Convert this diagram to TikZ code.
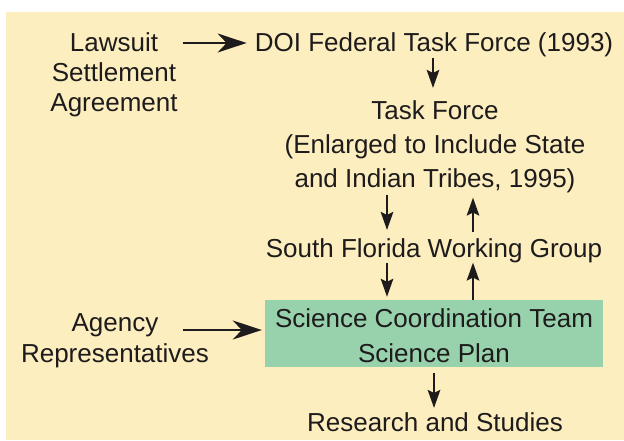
\documentclass[tikz,border=0pt]{standalone}
\usepackage{fontspec}
\setmainfont{Liberation Sans}
\usetikzlibrary{arrows.meta}
\definecolor{bgyellow}{RGB}{253,238,191}
\definecolor{boxgreen}{RGB}{152,210,172}
\definecolor{ink}{RGB}{30,27,28}
\begin{document}
\begin{tikzpicture}[x=1pt,y=-1pt,
  lbl/.style={text=ink, inner sep=0pt, align=center, anchor=base},
  varr/.style={draw=ink, line width=2.2pt, -{Stealth[length=18pt,width=12.5pt,inset=3pt]}},
  harr/.style={draw=ink, line width=2.2pt, -{Stealth[length=29pt,width=19pt,inset=9pt]}},
  boxnode/.style={fill=boxgreen, draw=none, minimum width=338pt, minimum height=67pt, inner sep=0pt}]
\useasboundingbox (0,0) rectangle (624,440);
\fill[white] (0,0) rectangle (624,440);
\fill[bgyellow] (6,12) rectangle (624,440);
% nodes
\node[lbl, font=\fontsize{26}{30}\selectfont] (law) at (114,111) {Lawsuit\\Settlement\\Agreement};
\node[lbl, font=\fontsize{26}{31}\selectfont] (doi) at (434,51) {DOI Federal Task Force (1993)};
\node[lbl, font=\fontsize{26}{34}\selectfont] (tf) at (435,187) {Task Force\\(Enlarged to Include State\\and Indian Tribes, 1995)};
\node[lbl, font=\fontsize{26}{31}\selectfont] (sf) at (434,257) {South Florida Working Group};
\node[boxnode] (sct) at (434,333.5) {};
\node[lbl, font=\fontsize{26}{35}\selectfont] (sctt) at (434,362) {Science Coordination Team\\Science Plan};
\node[lbl, font=\fontsize{26}{31}\selectfont] (ag) at (115,362) {Agency\\Representatives};
\node[lbl, font=\fontsize{26}{31}\selectfont] (rs) at (435,431) {Research and Studies};
% connectors
\coordinate (lawout) at (183,43);
\draw[harr, shorten >=8pt] (lawout) -- (lawout -| doi.west);
\draw[varr, shorten <=1pt, shorten >=12pt] ([xshift=-1pt]doi.south) -- ([xshift=-1pt]doi.south |- tf.north);
\coordinate (lcol) at (387,0);
\coordinate (rcol) at (473,0);
\draw[varr, shorten <=2pt, shorten >=8pt] (lcol |- tf.south) -- (lcol |- sf.north);
\draw[varr, shorten <=6pt, shorten >=5pt] (rcol |- sf.north) -- (rcol |- tf.south);
\draw[varr, shorten <=0pt, shorten >=3pt] (lcol |- sf.south) -- (lcol |- sct.north);
\draw[varr, shorten >=0pt] (rcol |- sct.north) -- (rcol |- sf.south);
\coordinate (agout) at (183,330);
\draw[harr, shorten >=3pt] (agout) -- (agout -| sct.west);
\draw[varr, shorten <=6pt, shorten >=4pt] (sct.south) -- (sct.south |- rs.north);
\end{tikzpicture}
\end{document}
